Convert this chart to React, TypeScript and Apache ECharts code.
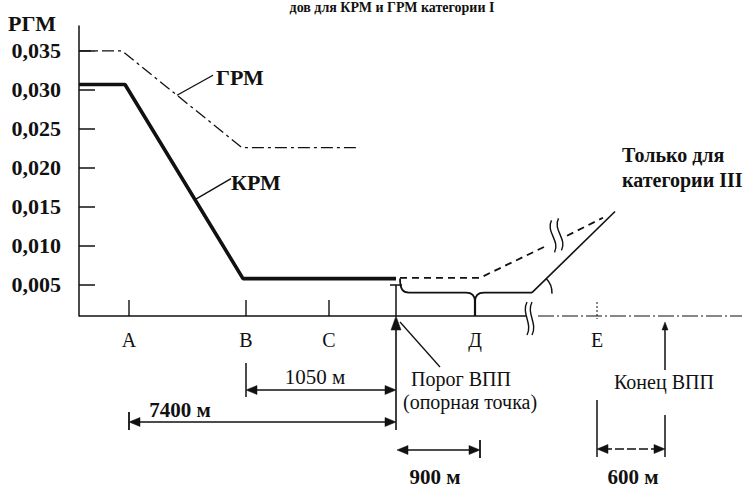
import React, { useEffect, useRef } from 'react';
import * as echarts from 'echarts';

// ---------- data ----------
const titleText = 'дов для КРМ и ГРМ категории I';
const yAxisName = 'РГМ';
const yTickValues = [0.005, 0.01, 0.015, 0.02, 0.025, 0.03, 0.035];
const stationNames = ['А', 'В', 'С', 'Д', 'Е'];
const stationX = [50, 167, 250, 396, 518];
const thresholdX = 317;
const runwayEndX = 586;
const axisBreakX = 451;

const krmX = [0, 46, 164, 317];
const krmY = [0.0307, 0.0307, 0.0058, 0.0058];
const grmX = [0, 43, 163, 281];
const grmY = [0.035, 0.035, 0.0226, 0.0226];
const cat3DashX1 = [321, 401, 469];
const cat3DashY1 = [0.0059, 0.0059, 0.0101];
const cat3DashX2 = [488, 524];
const cat3DashY2 = [0.0113, 0.0136];
const cat3SolidX = [453, 536];
const cat3SolidY = [0.004, 0.0144];

const dimFrom = [167, 50, 317, 518];
const dimTo = [317, 317, 401, 586];
const dimLabels = ['1050 м', '7400 м', '900 м', '600 м'];

const grmLabel = 'ГРМ';
const krmLabel = 'КРМ';
const cat3Label1 = 'Только для';
const cat3Label2 = 'категории III';
const thresholdLabel1 = 'Порог ВПП';
const thresholdLabel2 = '(опорная точка)';
const runwayEndLabel = 'Конец ВПП';

const zip = (xs: number[], ys: number[]) => xs.map((x, i) => [x, ys[i]]);
const interp = (xs: number[], ys: number[], x: number) => {
  for (let i = 0; i < xs.length - 1; i++) {
    if (x >= xs[i] && x <= xs[i + 1]) {
      const t = (x - xs[i]) / (xs[i + 1] - xs[i]);
      return ys[i] + t * (ys[i + 1] - ys[i]);
    }
  }
  return ys[ys.length - 1];
};

const SERIF = '"Liberation Serif", "Times New Roman", "DejaVu Serif", serif';
const INK = '#111111';

export default function App() {
  const ref = useRef<HTMLDivElement>(null);

  useEffect(() => {
    if (!ref.current) return;
    const chart = echarts.init(ref.current, undefined, { renderer: 'svg' });

    const renderAnnotations = (_params: any, api: any) => {
      const cx = (u: number) => api.coord([u, 0.001])[0];
      const cy = (v: number) => api.coord([0, v])[1];
      const base = cy(0.001);
      const ch: any[] = [];
      const line = (x1: number, y1: number, x2: number, y2: number, w = 1.3, dash?: number[]) =>
        ch.push({ type: 'line', shape: { x1, y1, x2, y2 }, style: { stroke: INK, lineWidth: w, lineDash: dash, fill: 'none' } });
      const bez = (x1: number, y1: number, cpx1: number, cpy1: number, cpx2: number, cpy2: number, x2: number, y2: number, w = 1.6) =>
        ch.push({ type: 'bezierCurve', shape: { x1, y1, cpx1, cpy1, cpx2, cpy2, x2, y2 }, style: { stroke: INK, lineWidth: w, fill: 'none' } });
      const poly = (pts: number[][]) => ch.push({ type: 'polygon', shape: { points: pts }, style: { fill: INK, stroke: INK, lineWidth: 0.5 } });
      const arrowH = (x: number, y: number, dir: number) => poly([[x, y], [x - dir * 11, y - 4.5], [x - dir * 11, y + 4.5]]);
      const wave = (x: number, yTop: number, yBot: number, dx: number) => {
        const h = yBot - yTop;
        bez(x, yTop, x - 6, yTop + h * 0.35, x + dx + 6, yTop + h * 0.65, x + dx, yBot, 1.4);
      };

      // x axis line: solid up to the break, dash-dot afterwards
      const bx = cx(axisBreakX);
      line(cx(0), base, bx - 4, base, 1.4);
      line(bx + 8, base, cx(663), base, 1.2, [16, 3, 2, 3]);
      wave(bx - 3, base - 14, base + 19, 0);
      wave(bx + 2, base - 14, base + 19, 0);

      // break on the category III dashed line
      const mx = (cx(cat3DashX1[2]) + cx(cat3DashX2[0])) / 2;
      const my = (cy(cat3DashY1[2]) + cy(cat3DashY2[0])) / 2;
      wave(mx - 6, my - 20, my + 12, 3);
      wave(mx + 1, my - 22, my + 10, 3);

      // station ticks
      for (let i = 0; i < 3; i++) line(cx(stationX[i]), base, cx(stationX[i]), base - 16, 1.4);
      line(cx(stationX[4]), base - 14, cx(stationX[4]), base + 3, 1, [2, 2]);

      // brace between threshold and start of category III line
      const xl = cx(thresholdX) + 4;
      const xm = cx(stationX[3]);
      const xr = cx(cat3SolidX[0]);
      const yTop = cy(krmY[3]);
      const yb = cy(cat3SolidY[0]);
      bez(xl, yTop, xl, yb - 3, xl + 3, yb, xl + 9, yb, 1.8);
      line(xl + 9, yb, xm - 9, yb, 1.8);
      bez(xm - 9, yb, xm - 3, yb, xm, yb + 3, xm, yb + 9, 1.8);
      bez(xm + 9, yb, xm + 3, yb, xm, yb + 3, xm, yb + 9, 1.8);
      line(xm + 9, yb, xr, yb, 1.8);
      line(xm, yb + 8, xm, base, 2.2);
      ch.push({ type: 'arc', shape: { cx: xr, cy: yb, r: 20, startAngle: -Math.PI / 4, endAngle: 0.05, clockwise: true }, style: { stroke: INK, lineWidth: 1.5, fill: 'none' } });

      // threshold marker "T" and reference arrow
      const tx = cx(thresholdX);
      line(tx, base, tx, base - 31, 1.5);
      line(tx - 6, base - 31, tx + 6, base - 31, 1.5);
      poly([[tx, base], [tx - 5, base + 14], [tx + 5, base + 14]]);
      line(tx, base + 10, tx, base + 114, 1.6);
      line(tx + 4, base + 6, tx + 44, base + 51, 1.3);

      // dimension arrows
      const dimY = [base + 74, base + 106, base + 134, base + 133];
      for (let i = 0; i < dimFrom.length; i++) {
        const x1 = cx(dimFrom[i]) + (i === 2 ? 1 : 0);
        const x2 = cx(dimTo[i]);
        const y = dimY[i];
        line(x1 + 6, y, x2 - 6, y, 1.5, i === 3 ? [9, 3] : undefined);
        arrowH(x1, y, -1);
        arrowH(x2, y, 1);
      }
      line(cx(dimFrom[0]), base + 47, cx(dimFrom[0]), base + 81, 1.5);
      line(cx(dimFrom[1]), base + 96, cx(dimFrom[1]), base + 114, 1.8);
      line(cx(dimTo[2]), base + 124, cx(dimTo[2]), base + 142, 1.8);
      line(cx(dimFrom[3]), base + 84, cx(dimFrom[3]), base + 141, 1.5);
      line(cx(dimTo[3]), base + 99, cx(dimTo[3]), base + 141, 1.5);

      // runway end arrow
      const ex = cx(runwayEndX);
      line(ex, base + 12, ex, base + 54, 1.5);
      poly([[ex, base + 6], [ex - 3, base + 14], [ex + 3, base + 14]]);

      // label leaders
      const gu = 98;
      const gp = api.coord([gu, interp(grmX, grmY, gu)]);
      line(gp[0], gp[1], gp[0] + 36, gp[1] - 20, 1.4);
      const ku = 116;
      const kp = api.coord([ku, interp(krmX, krmY, ku)]);
      line(kp[0], kp[1], kp[0] + 36, kp[1] - 21, 1.4);

      return { type: 'group', children: ch };
    };

    const txt = (text: string, left: number, top: number, size: number, bold: boolean, align = 'left') => ({
      type: 'text',
      left: align === 'left' ? left : undefined,
      x: align !== 'left' ? left : undefined,
      top,
      style: {
        text,
        fill: INK,
        font: `${bold ? 'bold ' : ''}${size}px ${SERIF}`,
        textAlign: align,
      },
    });

    chart.setOption({
      animation: false,
      backgroundColor: '#ffffff',
      grid: { left: 79, right: 4, top: 26, bottom: 173, containLabel: false, outerBoundsMode: 'none' },
      xAxis: {
        type: 'value',
        min: 0,
        max: 670,
        axisLine: { show: false },
        axisTick: { show: false },
        splitLine: { show: false },
        axisLabel: {
          customValues: stationX,
          formatter: (v: number) => stationNames[stationX.indexOf(v)] ?? '',
          color: INK,
          fontFamily: SERIF,
          fontSize: 20,
          margin: 14,
        },
      },
      yAxis: {
        type: 'value',
        min: 0.001,
        max: 0.0382,
        axisLine: { show: true, lineStyle: { color: INK, width: 1.5 } },
        axisTick: { show: true, inside: true, length: 16, customValues: yTickValues, lineStyle: { color: INK, width: 1.5 } },
        splitLine: { show: false },
        axisLabel: {
          customValues: yTickValues,
          formatter: (v: number) => v.toFixed(3).replace('.', ','),
          color: INK,
          fontFamily: SERIF,
          fontWeight: 'bold',
          fontSize: 22,
          margin: 18,
        },
      },
      series: [
        {
          name: 'ГРМ', type: 'line', data: zip(grmX, grmY), symbol: 'none', silent: true,
          lineStyle: { color: INK, width: 1.3, type: [12, 4, 3, 4] },
        },
        {
          name: 'КРМ', type: 'line', data: zip(krmX, krmY), symbol: 'none', silent: true,
          lineStyle: { color: INK, width: 3.6 },
        },
        {
          name: 'III-a', type: 'line', data: zip(cat3DashX1, cat3DashY1), symbol: 'none', silent: true,
          lineStyle: { color: INK, width: 1.8, type: [7, 5] },
        },
        {
          name: 'III-b', type: 'line', data: zip(cat3DashX2, cat3DashY2), symbol: 'none', silent: true,
          lineStyle: { color: INK, width: 1.8, type: [7, 5] },
        },
        {
          name: 'III', type: 'line', data: zip(cat3SolidX, cat3SolidY), symbol: 'none', silent: true,
          lineStyle: { color: INK, width: 1.6 },
        },
        {
          type: 'custom', data: [[0, 0.001]], clip: false, silent: true, renderItem: renderAnnotations,
        },
      ],
      graphic: [
        txt(titleText, 392, 0, 14, true, 'center'),
        txt(yAxisName, 8, 12, 22, true),
        txt(grmLabel, 216, 66, 22, true),
        txt(krmLabel, 231, 171, 22, true),
        txt(cat3Label1, 622, 145, 20, true),
        txt(cat3Label2, 622, 170, 20, true),
        txt(dimLabels[0], 315, 366, 21, false, 'center'),
        txt(dimLabels[1], 180, 399, 21, true, 'center'),
        txt(dimLabels[2], 435, 466, 21, true, 'center'),
        txt(dimLabels[3], 633, 466, 21, true, 'center'),
        txt(thresholdLabel1, 411, 369, 20, false),
        txt(thresholdLabel2, 403, 392, 20, false),
        txt(runwayEndLabel, 614, 372, 20, false),
      ],
    });

    return () => chart.dispose();
  }, []);

  return <div ref={ref} style={{ position: 'fixed', left: 0, top: 0, width: 753, height: 489 }} />;
}
